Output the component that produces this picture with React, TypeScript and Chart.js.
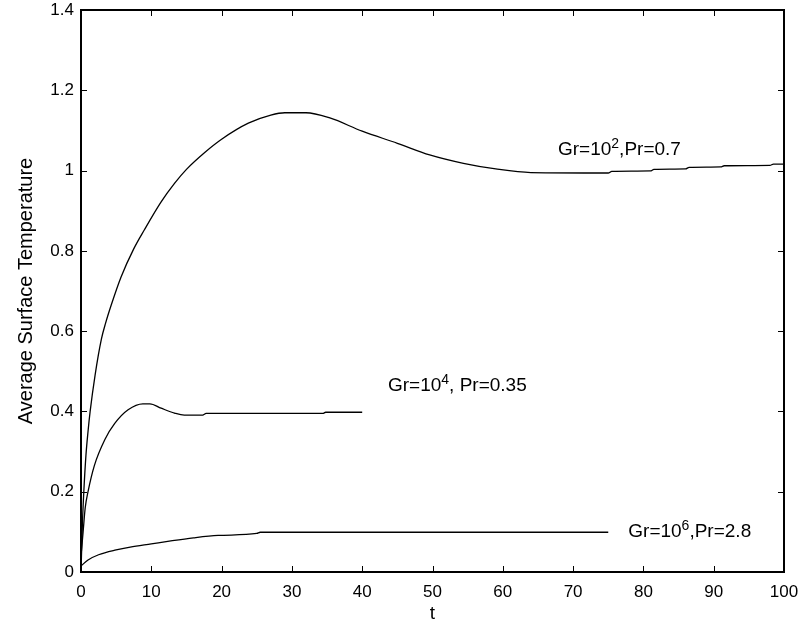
import React, { useEffect, useRef } from "react";
import { Chart, registerables } from "chart.js";

Chart.register(...registerables);

// Gr=10^2, Pr=0.7
const t1 = [0, 0.2, 0.4, 0.7, 1.0, 1.3, 2.0, 2.9, 3.5, 4.3, 5.7, 7.5, 9, 11.4, 13.3, 15, 17.6, 20, 23.8, 27, 29, 32, 35.4, 40, 45, 49.6, 54.4, 59, 64, 75, 75.5, 81, 81.5, 86, 86.5, 91, 91.5, 98, 98.5, 100];
const v1 = [0.0, 0.12, 0.2, 0.29, 0.35, 0.4, 0.49, 0.58, 0.62, 0.665, 0.735, 0.805, 0.852, 0.922, 0.968, 1.003, 1.045, 1.078, 1.118, 1.138, 1.144, 1.144, 1.131, 1.098, 1.068, 1.039, 1.018, 1.004, 0.995, 0.994, 0.998, 0.999, 1.003, 1.004, 1.008, 1.009, 1.012, 1.013, 1.016, 1.016];

// Gr=10^4, Pr=0.35
const t2 = [0, 0.3, 0.6, 1, 1.9, 3.4, 4.8, 6.7, 8.8, 9.8, 11.4, 13.3, 14.7, 17.3, 17.8, 34.4, 34.8, 40];
const v2 = [0.04, 0.1, 0.16, 0.2, 0.265, 0.33, 0.37, 0.404, 0.419, 0.419, 0.408, 0.396, 0.391, 0.391, 0.395, 0.395, 0.398, 0.398];

// Gr=10^6, Pr=2.8
const t3 = [0, 1, 2.5, 5, 7, 10, 13, 16, 19.5, 25, 25.5, 75];
const v3 = [0.015, 0.03, 0.043, 0.055, 0.062, 0.07, 0.078, 0.085, 0.091, 0.096, 0.099, 0.099];

// curve labels
const annoT = [67.85, 43.67, 77.85];
const annoV = [1.039, 0.45, 0.088];
const annoBase = ["Gr=10", "Gr=10", "Gr=10"];
const annoExp = ["2", "4", "6"];
const annoRest = [",Pr=0.7", ", Pr=0.35", ",Pr=2.8"];

const xTitle = "t";
const yTitle = "Average Surface Temperature";

const FONT = "'Liberation Sans', Arial, Helvetica, sans-serif";

const pts = (ts: number[], vs: number[]) => ts.map((t, i) => ({ x: t, y: vs[i] }));

const boxPlugin = {
  id: "boxPlugin",
  afterDatasetsDraw(chart: any) {
    const { ctx, chartArea: a, scales } = chart;
    const tl = 6;
    ctx.save();
    ctx.strokeStyle = "#000";
    ctx.lineWidth = 1;
    scales.x.ticks.forEach((tk: any) => {
      const px = Math.round(scales.x.getPixelForValue(tk.value)) + 0.5;
      ctx.beginPath();
      ctx.moveTo(px, a.bottom);
      ctx.lineTo(px, a.bottom - tl);
      ctx.moveTo(px, a.top);
      ctx.lineTo(px, a.top + tl);
      ctx.stroke();
    });
    scales.y.ticks.forEach((tk: any) => {
      const py = Math.round(scales.y.getPixelForValue(tk.value)) + 0.5;
      ctx.beginPath();
      ctx.moveTo(a.left, py);
      ctx.lineTo(a.left + tl, py);
      ctx.moveTo(a.right, py);
      ctx.lineTo(a.right - tl, py);
      ctx.stroke();
    });
    ctx.lineWidth = 2;
    ctx.strokeRect(a.left, a.top, a.right - a.left, a.bottom - a.top);

    // annotations
    ctx.fillStyle = "#000";
    ctx.textBaseline = "alphabetic";
    ctx.textAlign = "left";
    for (let i = 0; i < annoT.length; i++) {
      let x = scales.x.getPixelForValue(annoT[i]);
      const y = scales.y.getPixelForValue(annoV[i]);
      ctx.font = `19px ${FONT}`;
      ctx.fillText(annoBase[i], x, y);
      x += ctx.measureText(annoBase[i]).width;
      ctx.font = `14px ${FONT}`;
      ctx.fillText(annoExp[i], x, y - 7);
      x += ctx.measureText(annoExp[i]).width;
      ctx.font = `19px ${FONT}`;
      ctx.fillText(annoRest[i], x, y);
    }
    ctx.restore();
  },
};

export default function App() {
  const ref = useRef<HTMLCanvasElement | null>(null);
  useEffect(() => {
    if (!ref.current) return;
    const lineDs = (data: any) => ({
      data,
      borderColor: "#000",
      borderWidth: 1.3,
      pointRadius: 0,
      fill: false,
      cubicInterpolationMode: "monotone" as const,
    });
    const chart = new Chart(ref.current, {
      type: "line",
      data: {
        datasets: [lineDs(pts(t1, v1)), lineDs(pts(t2, v2)), lineDs(pts(t3, v3))],
      },
      plugins: [boxPlugin],
      options: {
        animation: false,
        responsive: true,
        maintainAspectRatio: false,
        layout: { padding: { left: 0, top: 10, right: 19, bottom: 0 } },
        plugins: { legend: { display: false }, tooltip: { enabled: false } },
        scales: {
          x: {
            type: "linear",
            min: 0,
            max: 100,
            grid: { display: false, drawTicks: false },
            border: { display: false },
            ticks: {
              stepSize: 10,
              padding: 10,
              color: "#000",
              font: { family: FONT, size: 17 },
              maxRotation: 0,
            },
            title: {
              display: true,
              text: xTitle,
              color: "#000",
              font: { family: FONT, size: 19 },
              padding: { top: 0, bottom: 0 },
            },
            afterFit: (s: any) => {
              s.height = 53;
              s.paddingLeft = 0;
              s.paddingRight = 0;
            },
          },
          y: {
            type: "linear",
            min: 0,
            max: 1.4,
            grid: { display: false, drawTicks: false },
            border: { display: false },
            ticks: {
              stepSize: 0.2,
              padding: 7,
              color: "#000",
              font: { family: FONT, size: 17 },
              callback: (v: any) => String(Math.round(Number(v) * 10) / 10),
            },
            title: {
              display: true,
              text: yTitle,
              color: "#000",
              font: { family: FONT, size: 20 },
              padding: { top: 14, bottom: 0 },
            },
            afterFit: (s: any) => {
              s.width = 81;
              s.paddingTop = 0;
              s.paddingBottom = 0;
            },
          },
        },
      },
    });
    return () => chart.destroy();
  }, []);
  return (
    <div style={{ position: "absolute", left: 0, top: 0, width: 803, height: 625, background: "#fff" }}>
      <canvas ref={ref} />
    </div>
  );
}
